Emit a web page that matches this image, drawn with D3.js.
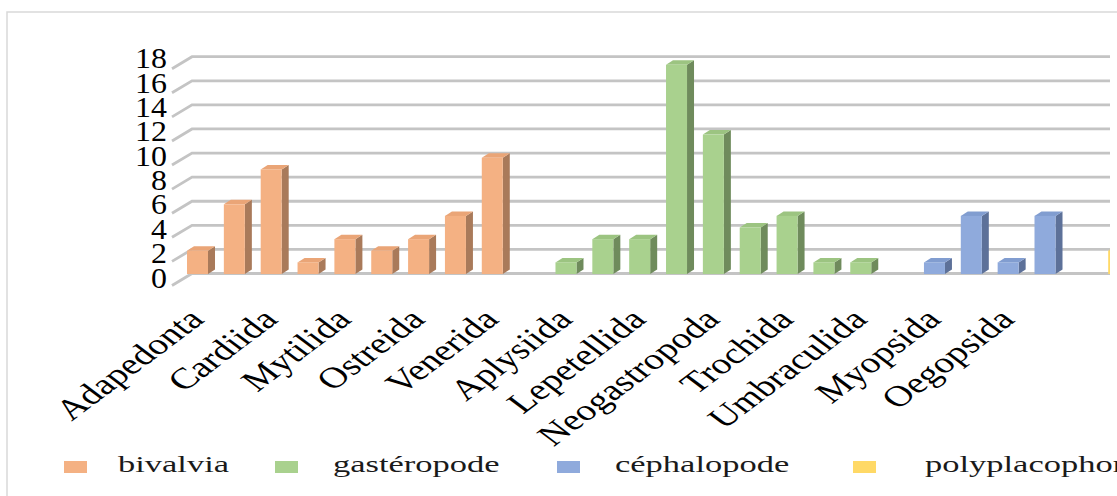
<!DOCTYPE html>
<html><head><meta charset="utf-8">
<script src="https://cdn.jsdelivr.net/npm/d3@7"></script>
<style>body{margin:0;background:#fff;overflow:hidden}svg{display:block}</style>
</head><body>
<svg id="chart" width="1117" height="496"></svg>
<script>
// ---- data ----
const categories = ["Adapedonta","","Cardiida","","Mytilida","","Ostreida","","Venerida","",
  "Aplysiida","","Lepetellida","","Neogastropoda","","Trochida","","Umbraculida","",
  "Myopsida","","Oegopsida","","",""];
const bivalvia      = [2,6,9,1,3,2,3,5,10,null, null,null,null,null,null,null,null,null,null,null, null,null,null,null,null,null];
const gasteropode   = [null,null,null,null,null,null,null,null,null,null, 1,3,3,18,12,4,5,1,1,null, null,null,null,null,null,null];
const cephalopode   = [null,null,null,null,null,null,null,null,null,null, null,null,null,null,null,null,null,null,null,null, 1,5,1,5,null,null];
const polyplacophora= [null,null,null,null,null,null,null,null,null,null, null,null,null,null,null,null,null,null,null,null, null,null,null,null,null,2];
const seriesNames = ["bivalvia","gastéropode","céphalopode","polyplacophora"];
const yTicks = [0,2,4,6,8,10,12,14,16,18];

// ---- styles ----
const colors = [
  {front:"#f4b183", side:"#a97a5a", top:"#eaa577"},
  {front:"#a9d18e", side:"#6f8b5c", top:"#9cc481"},
  {front:"#8faadc", side:"#5d7199", top:"#819dd0"},
  {front:"#ffd966", side:"#b39843", top:"#f2cc59"}
];
const seriesData = [bivalvia, gasteropode, cephalopode, polyplacophora];

const svg = d3.select("#chart");
const idx = d3.range(categories.length);

// chart border
svg.append("rect").attr("x",7).attr("y",12).attr("width",1200).attr("height",600)
  .attr("fill","none").attr("stroke","#d9d9d9").attr("stroke-width",1.5);

const x = d3.scaleBand().domain(idx).range([176.5, 1139.7]).paddingInner(0.43).paddingOuter(0.285);
const y = d3.scaleLinear().domain([0,18]).range([274, 274 - 18*11.62]);
const yGrid = d3.scaleLinear().domain([0,18]).range([273.5, 56.7]);
const yLab = d3.scaleLinear().domain([0,18]).range([277.5, 58.3]);
const DX = 7, DY = -4.5, SLX = 20, SLY = 12;

svg.append("defs").append("clipPath").attr("id","plotclip")
  .append("rect").attr("x",0).attr("y",0).attr("width",1110).attr("height",496);

const plot = svg.append("g").attr("clip-path","url(#plotclip)");

// gridlines (back wall + left wall slant)
const grid = plot.append("g");
yTicks.forEach(v=>{
  const gy = yGrid(v);
  grid.append("path")
    .attr("d", `M${192-SLX},${gy+SLY}L192,${gy}L1112,${gy}`)
    .attr("fill","none").attr("stroke","#c4c4c4").attr("stroke-width",2.8)
    .attr("stroke-linejoin","miter");
});

// bars
const bars = plot.append("g");
seriesData.forEach((arr, s)=>{
  arr.forEach((v,i)=>{
    if(v==null) return;
    const x0 = x(i), w = x.bandwidth(), yt = y(v), yb = y(0);
    const c = colors[s];
    bars.append("path").attr("d",`M${x0+w},${yt}L${x0+w+DX},${yt+DY}L${x0+w+DX},${yb+DY}L${x0+w},${yb}Z`).attr("fill",c.side);
    bars.append("path").attr("d",`M${x0},${yt}L${x0+DX},${yt+DY}L${x0+w+DX},${yt+DY}L${x0+w},${yt}Z`).attr("fill",c.top);
    bars.append("rect").attr("x",x0).attr("y",yt).attr("width",w).attr("height",yb-yt).attr("fill",c.front);
  });
});

// y tick labels
const yl = svg.append("g").attr("font-family","'Liberation Serif','Times New Roman',serif")
  .attr("font-size",29).attr("fill","#000");
yTicks.forEach(v=>{
  yl.append("text").attr("transform",`translate(167,${yLab(v)+10}) scale(1.1,1)`)
    .attr("text-anchor","end").text(v);
});

// x labels (every other category), 45° text stretched horizontally
const xl = svg.append("g").attr("font-family","'Liberation Serif','Times New Roman',serif")
  .attr("font-size",29.5).attr("fill","#000");
idx.forEach(i=>{
  if(i%2!==0 || !categories[i]) return;
  const cx = x(i)+x.bandwidth()/2;
  xl.append("text").attr("transform",`translate(${cx+8},321) scale(1.33,1) rotate(-45)`)
    .attr("text-anchor","end").text(categories[i]);
});

// legend
const legendX = [64, 275, 557, 853];
const legendTextX = [118, 333, 615, 925];
const lg = svg.append("g").attr("font-family","'Liberation Serif','Times New Roman',serif")
  .attr("font-size",23).attr("fill","#1a1a1a");
seriesNames.forEach((n,s)=>{
  lg.append("rect").attr("x",legendX[s]).attr("y",461).attr("width",23).attr("height",12).attr("fill",colors[s].front);
  lg.append("text").attr("transform",`translate(${legendTextX[s]},472) scale(1.5,1)`).text(n);
});
</script>
</body></html>
